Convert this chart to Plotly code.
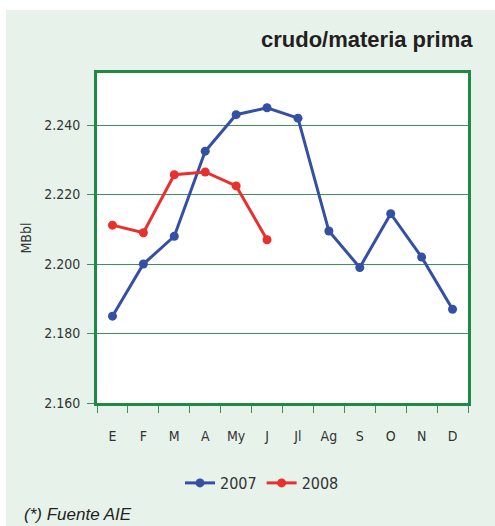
import plotly.graph_objects as go

# Monthly crude / raw material figures (MBbl)
months = ["E", "F", "M", "A", "My", "J", "Jl", "Ag", "S", "O", "N", "D"]
values_2007 = [2.185, 2.200, 2.208, 2.2325, 2.243, 2.245, 2.242, 2.2095, 2.199, 2.2145, 2.202, 2.187]
values_2008 = [2.2112, 2.209, 2.2257, 2.2265, 2.2225, 2.207]
y_ticks = [2.160, 2.180, 2.200, 2.220, 2.240]
y_tick_labels = ["2.160", "2.180", "2.200", "2.220", "2.240"]

W, H = 495, 526
ML, MR, MT, MB = 97, 27, 73, 123
PW, PH = W - ML - MR, H - MT - MB

def px_x(px):
    return (px - ML) / PW

def px_y(py):
    return (H - MB - py) / PH

BG = "#e7f3ea"
GREEN = "#1f8a45"
GRID = "#3f9159"
BLUE = "#3450a4"
RED = "#e8302f"
COND = "Liberation Sans Narrow, DejaVu Sans Condensed, Arial Narrow, sans-serif"

fig = go.Figure()
fig.add_trace(go.Scatter(
    x=months, y=values_2007, name="2007", mode="lines+markers",
    line=dict(color=BLUE, width=3), marker=dict(color=BLUE, size=9),
))
fig.add_trace(go.Scatter(
    x=months[:len(values_2008)], y=values_2008, name="2008", mode="lines+markers",
    line=dict(color=RED, width=3), marker=dict(color=RED, size=9),
))

fig.update_layout(
    width=W, height=H,
    margin=dict(l=ML, r=MR, t=MT, b=MB),
    paper_bgcolor=BG,
    plot_bgcolor="white",
    showlegend=True,
    legend=dict(
        orientation="h", x=px_x(262), y=px_y(483), xanchor="center", yanchor="middle",
        font=dict(family=COND, size=16, color="#333333"), bgcolor="rgba(0,0,0,0)",
    ),
    xaxis=dict(
        type="category", categoryorder="array", categoryarray=months,
        range=[-0.5, 11.5], tickson="boundaries",
        ticks="outside", ticklen=7, tickcolor=GRID, tickwidth=1,
        ticklabelstandoff=18,
        showgrid=False, showline=True, linecolor=GREEN, linewidth=3, mirror=True,
        tickfont=dict(family=COND, size=14, color="#333333"),
        zeroline=False,
    ),
    yaxis=dict(
        range=[2.160, 2.255], tickvals=y_ticks, ticktext=y_tick_labels,
        ticks="outside", ticklen=7, tickcolor=GRID, tickwidth=1,
        ticklabelstandoff=4,
        showgrid=True, gridcolor=GRID, gridwidth=1,
        showline=True, linecolor=GREEN, linewidth=3, mirror=True,
        tickfont=dict(family=COND, size=14, color="#333333"),
        title=dict(text="MBbl", font=dict(family=COND, size=14, color="#333333"), standoff=10),
        zeroline=False,
    ),
    shapes=[
        # white strips framing the tinted panel
        dict(type="rect", xref="paper", yref="paper", x0=px_x(0), x1=px_x(W), y0=px_y(10), y1=px_y(0),
             fillcolor="white", line=dict(width=0), layer="below"),
        dict(type="rect", xref="paper", yref="paper", x0=px_x(0), x1=px_x(6), y0=px_y(H), y1=px_y(0),
             fillcolor="white", line=dict(width=0), layer="below"),
    ],
    annotations=[
        dict(text="<b>crudo/materia prima</b>", xref="paper", yref="paper",
             x=px_x(475), y=px_y(40), xanchor="right", yanchor="middle", showarrow=False,
             font=dict(family="Liberation Sans, Arial, sans-serif", size=22, color="#231f20")),
        dict(text="<i>(*) Fuente AIE</i>", xref="paper", yref="paper",
             x=px_x(22), y=px_y(514), xanchor="left", yanchor="middle", showarrow=False,
             font=dict(family="Liberation Sans, Arial, sans-serif", size=17, color="#231f20")),
    ],
)

fig.write_html("out.html")
